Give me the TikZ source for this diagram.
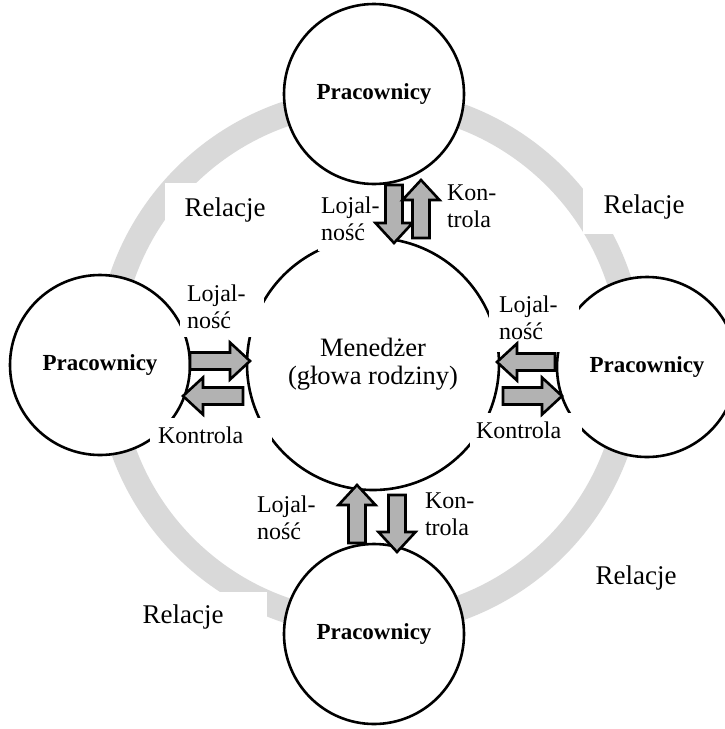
\documentclass[tikz,border=0pt]{standalone}
\usepackage{fontspec}
\setmainfont{Liberation Serif}

\begin{document}
\begin{tikzpicture} [x=1pt, y=-1pt,
	ring/.style={draw=gray!30, line width=25pt},
	pers/.style={circle, draw, line width=2.6pt, fill=white, minimum size=180pt, inner sep=0pt, font=\bfseries\fontsize{23}{26}\selectfont},
	lab/.style={fill=white, align=left, inner sep=0pt, font=\fontsize{24}{27}\selectfont},
	rel/.style={fill=white, inner sep=0pt, minimum width=120pt, minimum height=54pt, font=\fontsize{27}{30}\selectfont},
	pics/barrow/.style={code={\draw[line width=2.6pt, fill=gray!60] (0,-8.5) -- (#1-20,-8.5) -- (#1-20,-18.5) -- (#1,0) -- (#1-20,18.5) -- (#1-20,8.5) -- (0,8.5) -- cycle;}},
	pics/barrow/.default=58]
		\useasboundingbox (0,0) rectangle (725,729);
		\draw[ring] (370,362) circle[radius=262pt];
		\node[pers] (ptop) at (374,94) {Pracownicy};
		\node[pers] (pleft) at (100,365) {Pracownicy};
		\node[pers] (pright) at (647,367) {Pracownicy};
		\node[pers] (pbot) at (374,634) {Pracownicy};
		\node[pers, minimum size=252pt, align=center, font=\fontsize{26.5}{28}\selectfont] (mgr) at (373,364) {Menedżer\\(głowa rodziny)};
		\node[rel] (reltl) at (225,210) {Relacje};
		\node[rel, minimum width=122pt] (reltr) at (644,207) {Relacje};
		\node[rel, minimum width=168pt, minimum height=50pt] (relbl) at (183,617) {Relacje};
		\node[rel] (relbr) at (636,578) {Relacje};
		\node[lab, minimum width=72pt, minimum height=65pt, text width=66pt] (loytop) at (354,218.5) {Lojal-\\ność};
		\node[lab, minimum width=60pt, minimum height=50pt, text width=56pt] (kontop) at (475,206) {Kon-\\trola};
		\node[lab, minimum width=84pt, minimum height=61pt, text width=70pt] (loyleft) at (222,306.5) {Lojal-\\ność};
		\node[lab, minimum width=122pt, minimum height=34pt, text width=106pt] (konleft) at (211,435) {Kontrola};
		\node[lab, minimum width=90pt, minimum height=68pt, text width=70pt] (loyright) at (534,318) {Lojal-\\ność};
		\node[lab, minimum width=112pt, minimum height=34pt, text width=100pt] (konright) at (526,430) {Kontrola};
		\node[lab, minimum width=70pt, minimum height=62pt, text width=66pt] (loybot) at (290,518) {Lojal-\\ność};
		\node[lab, minimum width=60pt, minimum height=56pt, text width=56pt] (konbot) at (453,514) {Kon-\\trola};
		\pic[rotate=-90] (aloytop) at (394,185) {barrow};
		\pic[rotate=90] (akontop) at (421,238) {barrow};
		\pic (aloyleft) at (190,361) {barrow=60};
		\pic[rotate=180] (akonleft) at (243,396) {barrow=60};
		\pic[rotate=180] (aloyright) at (555,362) {barrow};
		\pic (akonright) at (503,396) {barrow=59};
		\pic[rotate=90] (aloybot) at (357,543) {barrow};
		\pic[rotate=-90] (akonbot) at (397,495) {barrow=57};
\end{tikzpicture}
\end{document}
